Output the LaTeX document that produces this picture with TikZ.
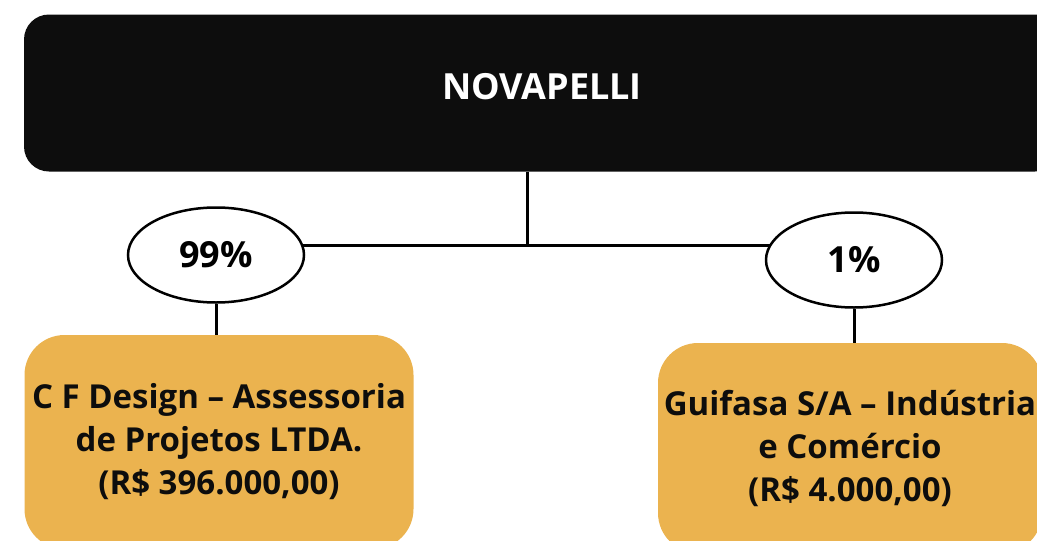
\documentclass[tikz,border=0pt]{standalone}
\usepackage{fontspec}
\setmainfont{Open Sans}
\usetikzlibrary{shapes.geometric,backgrounds}
\definecolor{boxblack}{HTML}{0D0D0D}
\definecolor{boxorange}{HTML}{EBB34F}
\tikzset{
  topbox/.style={fill=boxblack, rounded corners=25pt, text=white, text depth=14pt, font=\fontsize{36}{43}\selectfont\bfseries},
  sharebox/.style={ellipse, draw, line width=2.5pt, fill=white, minimum width=176pt, minimum height=95pt, font=\fontsize{36}{43}\selectfont\bfseries},
  firmbox/.style={fill=boxorange, rounded corners=40pt, align=center, text=boxblack, font=\fontsize{33}{43}\selectfont\bfseries},
  link/.style={line width=3pt}
}
\begin{document}
\begin{tikzpicture}[x=1pt,y=-1pt]
  \useasboundingbox (0,0) rectangle (1037,541);
  \clip (0,0) rectangle (1037,541);
  \node [topbox, minimum width=1036pt, minimum height=157pt] (novapelli) at (542,93) {NOVAPELLI};
  \node [sharebox] (p99) at (216,255) {99\%};
  \node [sharebox] (p1)  at (854,260) {1\%};
  \node [firmbox, minimum width=389pt, minimum height=214pt] (cfdesign) at (219,442)
    {C F Design – Assessoria\\de Projetos LTDA.\\(R\$ 396.000,00)};
  \node [firmbox, minimum width=384pt, minimum height=210pt] (guifasa) at (850,448)
    {Guifasa S/A – Indústria\\e Comércio\\(R\$ 4.000,00)};
  \coordinate (junction) at (527,245);
  \begin{scope}[on background layer]
    \draw [link] (novapelli.south -| junction) -- (junction);
    \draw [link] (junction -| p99) -- (junction -| p1);
    \draw [link] (p99) -- (p99 |- cfdesign.north);
    \draw [link] (p1) -- (p1 |- guifasa.north);
  \end{scope}
\end{tikzpicture}
\end{document}
